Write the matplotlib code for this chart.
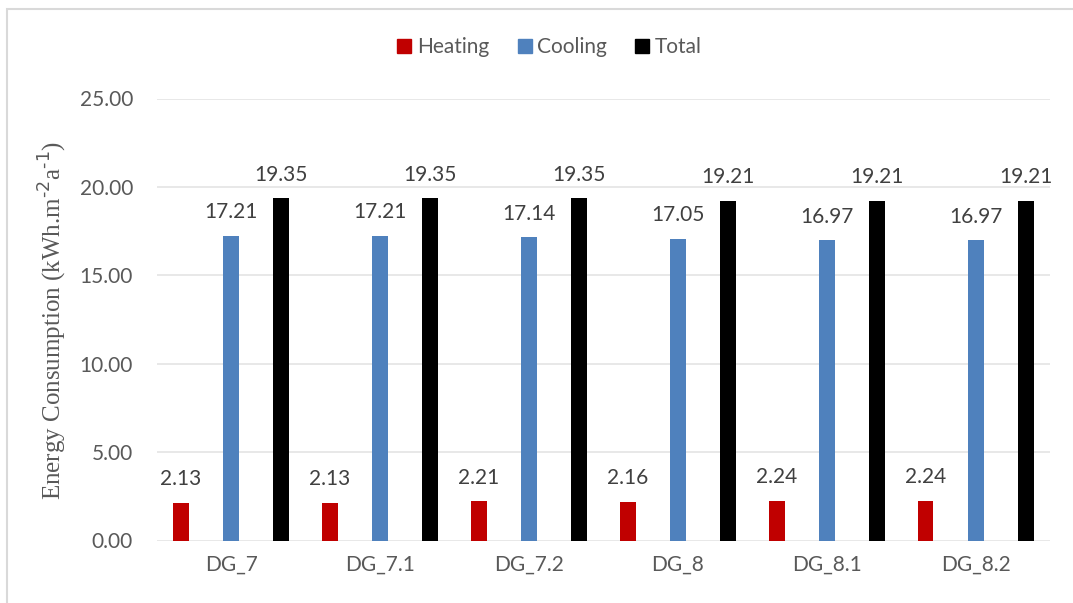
import matplotlib
matplotlib.use("Agg")
import matplotlib.pyplot as plt
import numpy as np
from matplotlib.patches import Rectangle
from matplotlib.lines import Line2D

categories = ["DG_7", "DG_7.1", "DG_7.2", "DG_8", "DG_8.1", "DG_8.2"]
heating = [2.13, 2.13, 2.21, 2.16, 2.24, 2.24]
cooling = [17.21, 17.21, 17.14, 17.05, 16.97, 16.97]
total = [19.35, 19.35, 19.35, 19.21, 19.21, 19.21]
series_names = ["Heating", "Cooling", "Total"]
series_colors = ["#C00000", "#4F81BD", "#000000"]
y_ticks = [0, 5, 10, 15, 20, 25]

TEXT = "#595959"
FONT = "Lato"
FS = 15

W, H = 1073, 603
fig = plt.figure(figsize=(W / 100, H / 100), dpi=100)
fig.patch.set_facecolor("white")

# outer chart-area frame
fig.add_artist(Rectangle((7 / W, -0.05), 1.2, 1 - 9 / H + 0.05,
                         transform=fig.transFigure, fill=False,
                         edgecolor="#D9D9D9", linewidth=1.5))

ax = fig.add_axes([156.7 / W, 1 - 540.5 / H, (1050 - 156.7) / W, (540.5 - 98.5) / H])
ax.set_facecolor("white")

x = np.arange(len(categories))
offsets = [-0.336, 0.0, 0.336]
width = 0.107
for vals, off, col in zip([heating, cooling, total], offsets, series_colors):
    bars = ax.bar(x + off, vals, width=width, color=col, zorder=3)
    for rect, v in zip(bars, vals):
        ax.annotate(f"{v:.2f}", (rect.get_x() + rect.get_width() / 2, v),
                    xytext=(0, 10), textcoords="offset points",
                    ha="center", va="bottom", fontsize=FS,
                    color="#404040", family=FONT)

ax.set_xlim(-0.5, len(categories) - 0.5)
ax.set_ylim(0, 25)
ax.set_yticks(y_ticks)
ax.set_yticklabels([f"{t:.2f}" for t in y_ticks], family=FONT, fontsize=FS, color=TEXT)
ax.set_xticks(x)
ax.set_xticklabels(categories, family=FONT, fontsize=FS, color=TEXT)
ax.tick_params(axis="y", length=0, pad=17)
ax.tick_params(axis="x", length=0, pad=10)
ax.grid(axis="y", color="#E6E6E6", linewidth=1.3, zorder=0)
for s in ax.spines.values():
    s.set_visible(False)

fig.text(53 / W, 1 - 320 / H, "Energy Consumption (kWh.m$^{\\text{-2}}$a$^{\\text{-1}}$)",
         rotation=90, ha="center", va="center", fontsize=18,
         family="Liberation Serif", color=TEXT)

handles = [Line2D([], [], linestyle="none", marker="s", markersize=10,
                  markerfacecolor=c, markeredgecolor=c) for c in series_colors]
leg = fig.legend(handles, series_names, loc="center", ncol=3,
                 bbox_to_anchor=(548 / W, 1 - 47 / H), frameon=False,
                 handletextpad=0.1, columnspacing=1.2, handlelength=1.0,
                 prop={"family": FONT, "size": FS})
for t in leg.get_texts():
    t.set_color(TEXT)

fig.savefig("out.png", dpi=100, facecolor="white")
